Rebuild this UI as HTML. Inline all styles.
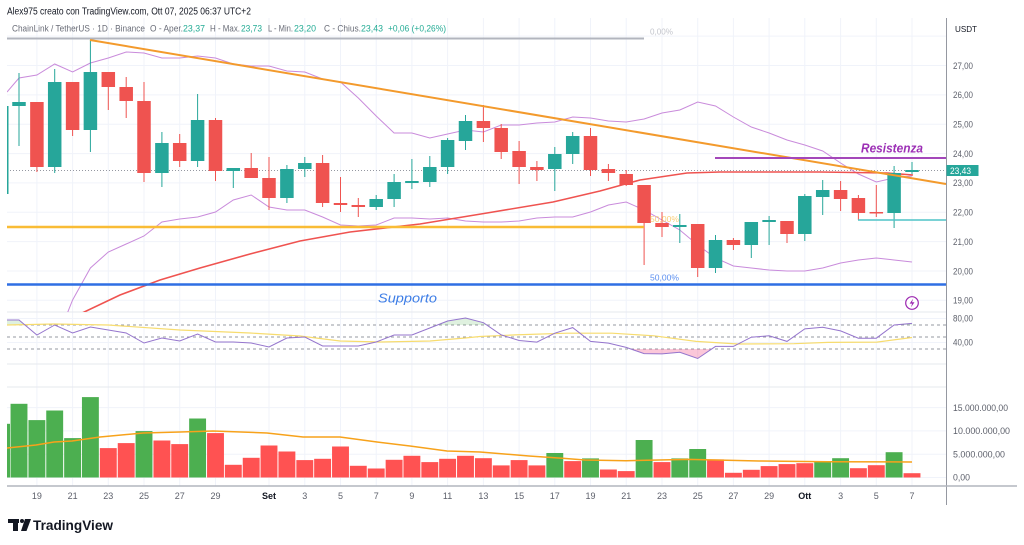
<!DOCTYPE html>
<html><head><meta charset="utf-8"><style>
html,body{margin:0;padding:0;background:#fff;}
svg{display:block;font-family:"Liberation Sans",sans-serif;}
</style></head><body>
<svg width="1024" height="545" viewBox="0 0 1024 545" xmlns="http://www.w3.org/2000/svg">
<rect width="1024" height="545" fill="#fff"/>
<defs>
<clipPath id="pc"><rect x="7" y="18" width="939.5" height="294"/></clipPath>
</defs>

<!-- grid -->
<g stroke="#f0f3fa" stroke-width="1">
<line x1="7" y1="36.1" x2="946" y2="36.1"/>
<line x1="7" y1="65.5" x2="946" y2="65.5"/>
<line x1="7" y1="94.9" x2="946" y2="94.9"/>
<line x1="7" y1="124.2" x2="946" y2="124.2"/>
<line x1="7" y1="153.6" x2="946" y2="153.6"/>
<line x1="7" y1="182.9" x2="946" y2="182.9"/>
<line x1="7" y1="212.3" x2="946" y2="212.3"/>
<line x1="7" y1="241.6" x2="946" y2="241.6"/>
<line x1="7" y1="271" x2="946" y2="271"/>
<line x1="7" y1="300.3" x2="946" y2="300.3"/>
<line x1="7" y1="318.5" x2="946" y2="318.5"/>
<line x1="7" y1="342.5" x2="946" y2="342.5"/>
<line x1="7" y1="407.6" x2="946" y2="407.6"/>
<line x1="7" y1="430.9" x2="946" y2="430.9"/>
<line x1="7" y1="454.2" x2="946" y2="454.2"/>
<line x1="7" y1="477.5" x2="946" y2="477.5"/>
<line x1="36.9" y1="18" x2="36.9" y2="486"/>
<line x1="72.6" y1="18" x2="72.6" y2="486"/>
<line x1="108.3" y1="18" x2="108.3" y2="486"/>
<line x1="144" y1="18" x2="144" y2="486"/>
<line x1="179.7" y1="18" x2="179.7" y2="486"/>
<line x1="215.5" y1="18" x2="215.5" y2="486"/>
<line x1="269" y1="18" x2="269" y2="486"/>
<line x1="304.8" y1="18" x2="304.8" y2="486"/>
<line x1="340.5" y1="18" x2="340.5" y2="486"/>
<line x1="376.2" y1="18" x2="376.2" y2="486"/>
<line x1="411.9" y1="18" x2="411.9" y2="486"/>
<line x1="447.6" y1="18" x2="447.6" y2="486"/>
<line x1="483.4" y1="18" x2="483.4" y2="486"/>
<line x1="519.1" y1="18" x2="519.1" y2="486"/>
<line x1="554.8" y1="18" x2="554.8" y2="486"/>
<line x1="590.5" y1="18" x2="590.5" y2="486"/>
<line x1="626.2" y1="18" x2="626.2" y2="486"/>
<line x1="662" y1="18" x2="662" y2="486"/>
<line x1="697.7" y1="18" x2="697.7" y2="486"/>
<line x1="733.4" y1="18" x2="733.4" y2="486"/>
<line x1="769.1" y1="18" x2="769.1" y2="486"/>
<line x1="804.8" y1="18" x2="804.8" y2="486"/>
<line x1="840.6" y1="18" x2="840.6" y2="486"/>
<line x1="876.3" y1="18" x2="876.3" y2="486"/>
<line x1="912" y1="18" x2="912" y2="486"/>
</g>
<g stroke="#e6e8ee" stroke-width="1">
<line x1="7" y1="312" x2="946" y2="312"/>
<line x1="7" y1="364" x2="946" y2="364"/>
<line x1="7" y1="387" x2="946" y2="387"/>
</g>

<!-- volume -->
<g fill="#4caf50">
<rect x="7" y="423.8" width="3" height="53.7"/>
<rect x="10.55" y="403.8" width="16.9" height="73.7"/>
<rect x="28.45" y="420.1" width="16.9" height="57.4"/>
<rect x="46.25" y="410.5" width="16.9" height="67"/>
<rect x="64.15" y="438.1" width="16.9" height="39.4"/>
<rect x="81.95" y="397.1" width="16.9" height="80.4"/>
<rect x="135.55" y="431.1" width="16.9" height="46.4"/>
<rect x="189.15" y="418.5" width="16.9" height="59"/>
<rect x="546.35" y="453" width="16.9" height="24.5"/>
<rect x="582.05" y="458.4" width="16.9" height="19.1"/>
<rect x="635.65" y="440" width="16.9" height="37.5"/>
<rect x="671.35" y="458.4" width="16.9" height="19.1"/>
<rect x="689.25" y="449" width="16.9" height="28.5"/>
<rect x="814.25" y="461.2" width="16.9" height="16.3"/>
<rect x="832.15" y="458.2" width="16.9" height="19.3"/>
<rect x="885.65" y="452.2" width="16.9" height="25.3"/>
</g>
<g fill="#ff5252">
<rect x="99.85" y="448.1" width="16.9" height="29.4"/>
<rect x="117.75" y="443.1" width="16.9" height="34.4"/>
<rect x="153.45" y="440.5" width="16.9" height="37"/>
<rect x="171.25" y="444.1" width="16.9" height="33.4"/>
<rect x="207.05" y="433.1" width="16.9" height="44.4"/>
<rect x="224.85" y="464.8" width="16.9" height="12.7"/>
<rect x="242.75" y="457.8" width="16.9" height="19.7"/>
<rect x="260.55" y="445.5" width="16.9" height="32"/>
<rect x="278.45" y="451.5" width="16.9" height="26"/>
<rect x="296.35" y="460.1" width="16.9" height="17.4"/>
<rect x="314.15" y="458.8" width="16.9" height="18.7"/>
<rect x="332.05" y="446.5" width="16.9" height="31"/>
<rect x="349.85" y="465.8" width="16.9" height="11.7"/>
<rect x="367.75" y="468.5" width="16.9" height="9"/>
<rect x="385.65" y="459.8" width="16.9" height="17.7"/>
<rect x="403.45" y="455.8" width="16.9" height="21.7"/>
<rect x="421.35" y="462.1" width="16.9" height="15.4"/>
<rect x="439.15" y="458.8" width="16.9" height="18.7"/>
<rect x="457.05" y="455.8" width="16.9" height="21.7"/>
<rect x="474.95" y="458.2" width="16.9" height="19.3"/>
<rect x="492.75" y="465.4" width="16.9" height="12.1"/>
<rect x="510.65" y="460.1" width="16.9" height="17.4"/>
<rect x="528.45" y="465.4" width="16.9" height="12.1"/>
<rect x="564.25" y="461.1" width="16.9" height="16.4"/>
<rect x="599.95" y="469.5" width="16.9" height="8"/>
<rect x="617.75" y="471.1" width="16.9" height="6.4"/>
<rect x="653.55" y="462.1" width="16.9" height="15.4"/>
<rect x="707.05" y="459.4" width="16.9" height="18.1"/>
<rect x="724.95" y="472.8" width="16.9" height="4.7"/>
<rect x="742.85" y="469.8" width="16.9" height="7.7"/>
<rect x="760.65" y="466.1" width="16.9" height="11.4"/>
<rect x="778.55" y="464.1" width="16.9" height="13.4"/>
<rect x="796.35" y="463.2" width="16.9" height="14.3"/>
<rect x="849.95" y="468.2" width="16.9" height="9.3"/>
<rect x="867.85" y="465.2" width="16.9" height="12.3"/>
<rect x="903.55" y="473.2" width="16.9" height="4.3"/>
</g>
<polyline fill="none" stroke="#f7a21b" stroke-width="1.5" points="7,448 36,445 54,442 72,441 100,437 143,433 180,432 213,431 267,433 303,437 340,437 377,442 410,446 447,451 480,452 529,456 564,458.4 585,460 626,460.7 689,459.4 759,461 828,461.7 912,462"/>

<!-- RSI -->
<g stroke="#9598a1" stroke-width="1" stroke-dasharray="3,3">
<line x1="7" y1="325" x2="946" y2="325"/>
<line x1="7" y1="337" x2="946" y2="337"/>
<line x1="7" y1="349" x2="946" y2="349"/>
</g>
<polygon fill="rgba(242,54,120,0.28)" points="630.6,349 644.1,353.6 662,353.9 679.8,352.3 697.7,358.5 711.7,349"/>
<polygon fill="rgba(76,175,80,0.18)" points="437.4,325 447.6,321 465.5,318 483.4,322.7 486.8,325"/>
<polygon fill="rgba(76,175,80,0.18)" points="7,325 7,320 19,320 25,325"/>
<polygon fill="rgba(76,175,80,0.18)" points="894.1,325 912,323.4 912,325"/>
<polyline fill="none" stroke="#f7dc6f" stroke-width="1.2" points="7,325 54,324 108,325 180,330 250,333 300,336 340,341 380,342 430,341 465,338 480,336.5 515,334.9 567,333.2 612,333.2 654,335.8 696,341.4 738,344 794,343.7 828,342.4 877,342.1 912,337.5"/>
<polyline fill="none" stroke="#9575cd" stroke-width="1" points="7,320 19,320 36.9,335 54.7,325 72.6,333 90.4,327 108.3,330 126.2,333 144,343 161.9,338 179.7,341 197.6,334 215.5,342 233.3,342 251.2,343 269,347 286.9,338 304.8,337 322.6,346 340.5,346 358.3,346 376.2,342 394.1,335 411.9,335 429.8,328 447.6,321 465.5,318 483.4,322.7 501.2,334.9 519.1,340.5 536.9,342.1 554.8,333.2 572.7,327.6 590.5,341.4 608.4,343.1 626.2,347.4 644.1,353.6 662,353.9 679.8,352.3 697.7,358.5 715.5,346.4 733.4,346.4 751.3,337.2 769.1,335.8 787,341.4 804.8,328.9 822.7,327.3 840.6,330.9 858.4,338.2 876.3,338.2 894.1,325 912,323.4"/>

<!-- price pane -->
<g clip-path="url(#pc)">
<line x1="7" y1="170.5" x2="946" y2="170.5" stroke="#9598a1" stroke-width="1" stroke-dasharray="1,2"/>
<polyline fill="none" stroke="#c98bdb" stroke-width="1" points="7,92 19,78 36.9,75 54.7,64 72.6,72 90.4,63 108.3,58 126.2,52 144,53 161.9,58 179.7,58 197.6,56 215.5,58 233.3,64 251.2,66 269,66 286.9,71 304.8,72 322.6,79 340.5,82 358.3,98 376.2,116 394.1,133 411.9,133 429.8,138 447.6,134 465.5,130 483.4,132 501.2,125 519.1,125 536.9,123 554.8,122 572.7,117 590.5,118 608.4,121 626.2,122 644.1,119 662,113 679.8,110 697.7,102 715.5,106 733.4,117 751.3,127 769.1,133 787,140 804.8,145 822.7,151 840.6,163 858.4,174 876.3,182 894.1,178 912,176"/>
<polyline fill="none" stroke="#c98bdb" stroke-width="1" points="67,314 72.6,300 90.4,268 108.3,252 126.2,244 144,236 161.9,222 179.7,219 197.6,217 215.5,212 233.3,200 251.2,195 269,207 286.9,210 304.8,210 322.6,217 340.5,225 358.3,226 376.2,225 394.1,218 411.9,218 429.8,219 447.6,218 465.5,221 483.4,222 501.2,222 519.1,221 536.9,218 554.8,217 572.7,217 590.5,212 608.4,205 626.2,202 644.1,210 662,220 679.8,230 697.7,245 715.5,258 733.4,266 751.3,268 769.1,270 787,271 804.8,271 822.7,268 840.6,263 858.4,260 876.3,258 894.1,260 912,262"/>
<polyline fill="none" stroke="#ef5350" stroke-width="1.6" points="80,314 120,295 160,280 200,268 250,254 300,241 350,232 420,224 487,213 553,202 600,191 640,180 687,173 720,172 820,172 887,173 913,175"/>

<g stroke="#26a69a" stroke-width="1">
<line x1="19" y1="73" x2="19" y2="146"/><line x1="54.7" y1="69" x2="54.7" y2="173"/><line x1="90.4" y1="40" x2="90.4" y2="152"/><line x1="161.9" y1="132" x2="161.9" y2="187"/><line x1="197.6" y1="94" x2="197.6" y2="167"/><line x1="233.3" y1="168" x2="233.3" y2="188"/><line x1="286.9" y1="165" x2="286.9" y2="203"/><line x1="304.8" y1="157" x2="304.8" y2="177"/><line x1="376.2" y1="195" x2="376.2" y2="210"/><line x1="394.1" y1="174" x2="394.1" y2="207"/><line x1="411.9" y1="159" x2="411.9" y2="189"/><line x1="429.8" y1="156" x2="429.8" y2="187"/><line x1="447.6" y1="138" x2="447.6" y2="174"/><line x1="465.5" y1="115" x2="465.5" y2="150"/><line x1="554.8" y1="147" x2="554.8" y2="191"/><line x1="572.7" y1="132" x2="572.7" y2="164"/><line x1="679.8" y1="214" x2="679.8" y2="243"/><line x1="715.5" y1="235" x2="715.5" y2="273"/><line x1="751.3" y1="222" x2="751.3" y2="258"/><line x1="769.1" y1="216" x2="769.1" y2="245"/><line x1="804.8" y1="194" x2="804.8" y2="241"/><line x1="822.7" y1="180" x2="822.7" y2="215"/><line x1="894.1" y1="166" x2="894.1" y2="228"/><line x1="912" y1="162" x2="912" y2="174"/>
</g>
<g fill="#26a69a">
<rect x="7" y="106" width="1.5" height="88"/>
<rect x="12.25" y="102" width="13.5" height="4"/><rect x="47.95" y="82" width="13.5" height="85"/><rect x="83.65" y="72" width="13.5" height="58"/><rect x="155.15" y="143" width="13.5" height="30"/><rect x="190.85" y="120" width="13.5" height="41"/><rect x="226.55" y="168" width="13.5" height="3"/><rect x="280.15" y="169" width="13.5" height="29"/><rect x="298.05" y="163" width="13.5" height="6"/><rect x="369.45" y="199" width="13.5" height="8"/><rect x="387.35" y="182" width="13.5" height="17"/><rect x="405.15" y="181" width="13.5" height="2"/><rect x="423.05" y="167" width="13.5" height="15"/><rect x="440.85" y="140" width="13.5" height="27"/><rect x="458.75" y="121" width="13.5" height="20"/><rect x="548.05" y="154" width="13.5" height="15"/><rect x="565.95" y="136" width="13.5" height="18"/><rect x="673.05" y="225" width="13.5" height="2"/><rect x="708.75" y="240" width="13.5" height="28"/><rect x="744.55" y="222" width="13.5" height="23"/><rect x="762.35" y="220" width="13.5" height="2"/><rect x="798.05" y="196" width="13.5" height="38"/><rect x="815.95" y="190" width="13.5" height="7"/><rect x="887.35" y="173" width="13.5" height="40"/><rect x="905.25" y="170" width="13.5" height="2"/>
</g>
<g stroke="#ef5350" stroke-width="1">
<line x1="36.9" y1="102" x2="36.9" y2="172"/><line x1="72.6" y1="82" x2="72.6" y2="136"/><line x1="108.3" y1="72" x2="108.3" y2="110"/><line x1="126.2" y1="77" x2="126.2" y2="118"/><line x1="144" y1="82" x2="144" y2="182"/><line x1="179.7" y1="134" x2="179.7" y2="167"/><line x1="215.5" y1="118" x2="215.5" y2="181"/><line x1="251.2" y1="153" x2="251.2" y2="178"/><line x1="269" y1="157" x2="269" y2="210"/><line x1="322.6" y1="155" x2="322.6" y2="207"/><line x1="340.5" y1="177" x2="340.5" y2="212"/><line x1="358.3" y1="198" x2="358.3" y2="217"/><line x1="483.4" y1="105" x2="483.4" y2="142"/><line x1="501.2" y1="124" x2="501.2" y2="159"/><line x1="519.1" y1="141" x2="519.1" y2="184"/><line x1="536.9" y1="161" x2="536.9" y2="181"/><line x1="590.5" y1="128" x2="590.5" y2="176"/><line x1="608.4" y1="164" x2="608.4" y2="181"/><line x1="626.2" y1="170" x2="626.2" y2="186"/><line x1="644.1" y1="185" x2="644.1" y2="265"/><line x1="662" y1="212" x2="662" y2="237"/><line x1="697.7" y1="224" x2="697.7" y2="277"/><line x1="733.4" y1="238" x2="733.4" y2="250"/><line x1="787" y1="221" x2="787" y2="243"/><line x1="840.6" y1="181" x2="840.6" y2="211"/><line x1="858.4" y1="195" x2="858.4" y2="220"/><line x1="876.3" y1="185" x2="876.3" y2="217"/>
</g>
<g fill="#ef5350">
<rect x="30.15" y="102" width="13.5" height="65"/><rect x="65.85" y="82" width="13.5" height="48"/><rect x="101.55" y="72" width="13.5" height="15"/><rect x="119.45" y="87" width="13.5" height="14"/><rect x="137.25" y="101" width="13.5" height="72"/><rect x="172.95" y="143" width="13.5" height="18"/><rect x="208.75" y="120" width="13.5" height="51"/><rect x="244.45" y="168" width="13.5" height="10"/><rect x="262.25" y="178" width="13.5" height="20"/><rect x="315.85" y="163" width="13.5" height="40"/><rect x="333.75" y="203" width="13.5" height="2"/><rect x="351.55" y="205" width="13.5" height="2"/><rect x="476.65" y="121" width="13.5" height="7"/><rect x="494.45" y="128" width="13.5" height="24"/><rect x="512.35" y="151" width="13.5" height="16"/><rect x="530.15" y="167" width="13.5" height="3"/><rect x="583.75" y="136" width="13.5" height="34"/><rect x="601.65" y="169" width="13.5" height="4"/><rect x="619.45" y="174" width="13.5" height="11"/><rect x="637.35" y="185" width="13.5" height="38"/><rect x="655.25" y="223" width="13.5" height="4"/><rect x="690.95" y="224" width="13.5" height="44"/><rect x="726.65" y="240" width="13.5" height="5"/><rect x="780.25" y="221" width="13.5" height="13"/><rect x="833.85" y="190" width="13.5" height="9"/><rect x="851.65" y="198" width="13.5" height="15"/><rect x="869.55" y="212" width="13.5" height="1.5"/>
</g>

<line x1="7" y1="38.5" x2="644" y2="38.5" stroke="#b2b5be" stroke-width="2"/>
<line x1="7" y1="227" x2="644" y2="227" stroke="#f9bc35" stroke-width="2.5"/>
<line x1="7" y1="284.5" x2="946" y2="284.5" stroke="#2f6fe4" stroke-width="2.5"/>
<line x1="90" y1="40" x2="946" y2="184" stroke="#f39a2c" stroke-width="2"/>
<line x1="715" y1="158" x2="946" y2="158" stroke="#a347ba" stroke-width="2"/>
<line x1="858" y1="220" x2="946" y2="220" stroke="#4fc3c7" stroke-width="1.5"/>
</g>

<text x="650" y="34.5" font-size="8.5" fill="#c3c5cc" textLength="23" lengthAdjust="spacingAndGlyphs">0,00%</text>
<text x="650" y="222" font-size="8.5" fill="#f9cf7a" textLength="29" lengthAdjust="spacingAndGlyphs">50,00%</text>
<text x="650" y="280.5" font-size="8.5" fill="#5b8ff0" textLength="29" lengthAdjust="spacingAndGlyphs">50,00%</text>
<text x="378" y="302.5" font-size="13" font-style="italic" fill="#3d7de6" textLength="59" lengthAdjust="spacingAndGlyphs">Supporto</text>
<text x="861" y="152.5" font-size="13" font-style="italic" font-weight="bold" fill="#9c2fb5" textLength="62" lengthAdjust="spacingAndGlyphs">Resistenza</text>

<circle cx="912" cy="303" r="6.3" fill="#fff" stroke="#9c27b0" stroke-width="1.2"/>
<path d="M913.2,298.6 L909.6,303.6 L912.1,303.6 L910.9,307.4 L914.5,302.3 L912,302.3 Z" fill="#9c27b0"/>

<line x1="946.5" y1="18" x2="946.5" y2="505" stroke="#9598a1" stroke-width="1"/>
<line x1="7" y1="486" x2="1017" y2="486" stroke="#b2b5be" stroke-width="1.5"/>

<text x="955" y="32" font-size="8.5" fill="#131722" textLength="22" lengthAdjust="spacingAndGlyphs">USDT</text>
<g font-size="9" fill="#5d606b">
<text x="953" y="68.8" textLength="20" lengthAdjust="spacingAndGlyphs">27,00</text>
<text x="953" y="98.2" textLength="20" lengthAdjust="spacingAndGlyphs">26,00</text>
<text x="953" y="127.5" textLength="20" lengthAdjust="spacingAndGlyphs">25,00</text>
<text x="953" y="156.9" textLength="20" lengthAdjust="spacingAndGlyphs">24,00</text>
<text x="953" y="186.2" textLength="20" lengthAdjust="spacingAndGlyphs">23,00</text>
<text x="953" y="215.6" textLength="20" lengthAdjust="spacingAndGlyphs">22,00</text>
<text x="953" y="244.9" textLength="20" lengthAdjust="spacingAndGlyphs">21,00</text>
<text x="953" y="274.3" textLength="20" lengthAdjust="spacingAndGlyphs">20,00</text>
<text x="953" y="303.6" textLength="20" lengthAdjust="spacingAndGlyphs">19,00</text>
<text x="953" y="321.5" textLength="20" lengthAdjust="spacingAndGlyphs">80,00</text>
<text x="953" y="345.5" textLength="20" lengthAdjust="spacingAndGlyphs">40,00</text>
<text x="953" y="410.8" textLength="55" lengthAdjust="spacingAndGlyphs">15.000.000,00</text>
<text x="953" y="434.1" textLength="57" lengthAdjust="spacingAndGlyphs">10.000.000,00</text>
<text x="953" y="457.4" textLength="52" lengthAdjust="spacingAndGlyphs">5.000.000,00</text>
<text x="953" y="480.7" textLength="17" lengthAdjust="spacingAndGlyphs">0,00</text>
</g>
<rect x="946.5" y="165" width="32" height="11" fill="#26a69a"/>
<text x="950" y="173.8" font-size="9" fill="#fff" textLength="21" lengthAdjust="spacingAndGlyphs">23,43</text>

<g font-size="9" fill="#5d606b" text-anchor="middle">
<text x="36.9" y="499">19</text>
<text x="72.6" y="499">21</text>
<text x="108.3" y="499">23</text>
<text x="144" y="499">25</text>
<text x="179.7" y="499">27</text>
<text x="215.5" y="499">29</text>
<text x="269" y="499" font-weight="bold" fill="#131722">Set</text>
<text x="304.8" y="499">3</text>
<text x="340.5" y="499">5</text>
<text x="376.2" y="499">7</text>
<text x="411.9" y="499">9</text>
<text x="447.6" y="499">11</text>
<text x="483.4" y="499">13</text>
<text x="519.1" y="499">15</text>
<text x="554.8" y="499">17</text>
<text x="590.5" y="499">19</text>
<text x="626.2" y="499">21</text>
<text x="662" y="499">23</text>
<text x="697.7" y="499">25</text>
<text x="733.4" y="499">27</text>
<text x="769.1" y="499">29</text>
<text x="804.8" y="499" font-weight="bold" fill="#131722">Ott</text>
<text x="840.6" y="499">3</text>
<text x="876.3" y="499">5</text>
<text x="912" y="499">7</text>
</g>

<!-- header (drawn on top) -->
<text x="7" y="14.5" font-size="10" fill="#131722" textLength="244" lengthAdjust="spacingAndGlyphs">Alex975 creato con TradingView.com, Ott 07, 2025 06:37 UTC+2</text>
<g font-size="9" fill="#6a6d78">
<text x="12" y="31.5" textLength="133" lengthAdjust="spacingAndGlyphs">ChainLink / TetherUS · 1D · Binance</text>
<text x="150" y="31.5" textLength="33" lengthAdjust="spacingAndGlyphs">O - Aper.</text>
<text x="183" y="31.5" fill="#22ab94" textLength="22" lengthAdjust="spacingAndGlyphs">23,37</text>
<text x="210" y="31.5" textLength="30" lengthAdjust="spacingAndGlyphs">H - Max.</text>
<text x="241" y="31.5" fill="#22ab94" textLength="21" lengthAdjust="spacingAndGlyphs">23,73</text>
<text x="268" y="31.5" textLength="25" lengthAdjust="spacingAndGlyphs">L - Min.</text>
<text x="294" y="31.5" fill="#22ab94" textLength="22" lengthAdjust="spacingAndGlyphs">23,20</text>
<text x="324" y="31.5" textLength="37" lengthAdjust="spacingAndGlyphs">C - Chius.</text>
<text x="361" y="31.5" fill="#22ab94" textLength="22" lengthAdjust="spacingAndGlyphs">23,43</text>
<text x="388" y="31.5" fill="#22ab94" textLength="58" lengthAdjust="spacingAndGlyphs">+0,06 (+0,26%)</text>
</g>

<g fill="#131722">
<rect x="8" y="519" width="11" height="4"/>
<rect x="13" y="519" width="5" height="12"/>
<circle cx="22" cy="521" r="2"/>
<polygon points="25,519 31,519 26.5,531 21,531"/>
</g>
<text x="33" y="530" font-size="14" font-weight="bold" fill="#131722" textLength="80" lengthAdjust="spacingAndGlyphs">TradingView</text>
</svg>
</body></html>
